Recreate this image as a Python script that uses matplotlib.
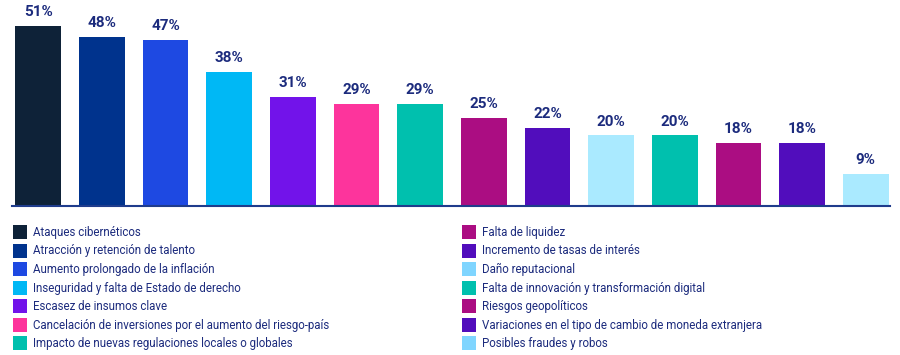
import matplotlib.pyplot as plt
from matplotlib.patches import Patch

plt.rcParams['font.family'] = ['Roboto', 'DejaVu Sans']

categories = [
    'Ataques cibernéticos',
    'Atracción y retención de talento',
    'Aumento prolongado de la inflación',
    'Inseguridad y falta de Estado de derecho',
    'Escasez de insumos clave',
    'Cancelación de inversiones por el aumento del riesgo-país',
    'Impacto de nuevas regulaciones locales o globales',
    'Falta de liquidez',
    'Incremento de tasas de interés',
    'Daño reputacional',
    'Falta de innovación y transformación digital',
    'Riesgos geopolíticos',
    'Variaciones en el tipo de cambio de moneda extranjera',
    'Posibles fraudes y robos',
]
values = [51, 48, 47, 38, 31, 29, 29, 25, 22, 20, 20, 18, 18, 9]
colors = ['#0e2238', '#00338d', '#1e49e2', '#00b8f5', '#7213ea', '#fd349c', '#00c0ae',
          '#ab0d82', '#510dbc', '#aaeaff', '#00c0ae', '#ab0d82', '#510dbc', '#aaeaff']
legend_colors = colors[:9] + ['#7fd5ff'] + colors[10:13] + ['#7fd5ff']

text_color = '#1c2b7d'

fig = plt.figure(figsize=(9, 3.55), dpi=100)
ax = fig.add_axes([12/900, 149/355, 878/900, 206/355])

x = range(len(values))
bars = ax.bar(x, values, width=0.72, color=colors)
ax.bar_label(bars, labels=[f'{v}%' for v in values], padding=5,
             fontsize=11, fontweight='bold', color=text_color)

ax.set_xlim(-0.41, 13.38)
ax.set_ylim(0, 58.4)
for s in ['top', 'right', 'left']:
    ax.spines[s].set_visible(False)
ax.spines['bottom'].set_color('#1f3c8c')
ax.spines['bottom'].set_linewidth(1.5)
ax.set_xticks([])
ax.set_yticks([])

handles = [Patch(facecolor=c) for c in legend_colors]
for col, x0 in [(0, 13/900), (1, 462/900)]:
    fig.legend(handles[col*7:(col+1)*7], categories[col*7:(col+1)*7],
               loc='upper left', bbox_to_anchor=(x0, 1 - 225/355),
               frameon=False, fontsize=8.3, labelcolor=text_color,
               handlelength=1.22, handleheight=1.5, handletextpad=0.5,
               labelspacing=0.39, borderaxespad=0, borderpad=0)

fig.savefig('out.png', dpi=100)
